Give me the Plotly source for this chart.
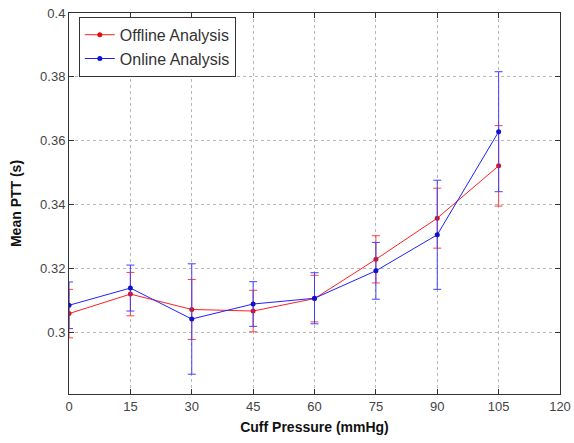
import plotly.graph_objects as go

cuff_pressure = [0, 15, 30, 45, 60, 75, 90, 105]
offline_mean = [0.3058, 0.3119, 0.3071, 0.3066, 0.3105, 0.3228, 0.3357, 0.3521]
offline_err = [0.0076, 0.0068, 0.0094, 0.0065, 0.0073, 0.0074, 0.0094, 0.0126]
online_mean = [0.3084, 0.3138, 0.3041, 0.3088, 0.3106, 0.3192, 0.3305, 0.3628]
online_err = [0.0073, 0.0072, 0.0173, 0.0070, 0.0080, 0.0089, 0.0171, 0.0188]
x_ticks = [0, 15, 30, 45, 60, 75, 90, 105, 120]
y_ticks = [0.3, 0.32, 0.34, 0.36, 0.38, 0.4]

fig = go.Figure()
fig.add_trace(go.Scatter(
    x=cuff_pressure, y=offline_mean, name="Offline Analysis", mode="lines+markers",
    line=dict(color="#ff2020", width=1), marker=dict(color="#e01010", size=5),
    error_y=dict(type="data", array=offline_err, color="#ff4040", thickness=1, width=4),
))
fig.add_trace(go.Scatter(
    x=cuff_pressure, y=online_mean, name="Online Analysis", mode="lines+markers",
    line=dict(color="#2020ff", width=1), marker=dict(color="#1010d0", size=5),
    error_y=dict(type="data", array=online_err, color="#4040ff", thickness=1, width=4),
))

axis_common = dict(
    showline=True, linecolor="#333", linewidth=1, mirror="ticks",
    ticks="inside", ticklen=5, tickcolor="#333",
    showgrid=True, gridcolor="#b8b8b8", griddash="dot", gridwidth=1,
    zeroline=False, automargin=False,
    tickfont=dict(family="Arial, Liberation Sans", size=13, color="#444"),
)
fig.update_xaxes(range=[0, 120], tickvals=x_ticks, **axis_common,
                 title=dict(text="<b>Cuff Pressure (mmHg)</b>", standoff=9,
                            font=dict(family="Arial, Liberation Sans", size=14, color="#111")))
fig.update_yaxes(range=[0.2806, 0.4], tickvals=y_ticks, ticktext=[str(v) for v in y_ticks], **axis_common,
                 title=dict(text="<b>Mean PTT (s)</b>", standoff=15,
                            font=dict(family="Arial, Liberation Sans", size=14, color="#111")))

fig.update_layout(
    width=574, height=443,
    margin=dict(l=69, r=14, t=13, b=49),
    paper_bgcolor="white", plot_bgcolor="white",
    showlegend=True,
    legend=dict(x=0.02, y=0.99, xanchor="left", yanchor="top",
                bordercolor="#333", borderwidth=1, bgcolor="white",
                font=dict(family="Arial, Liberation Sans", size=16, color="#333"),
                tracegroupgap=0, itemwidth=30),
)
fig.write_html("out.html")
